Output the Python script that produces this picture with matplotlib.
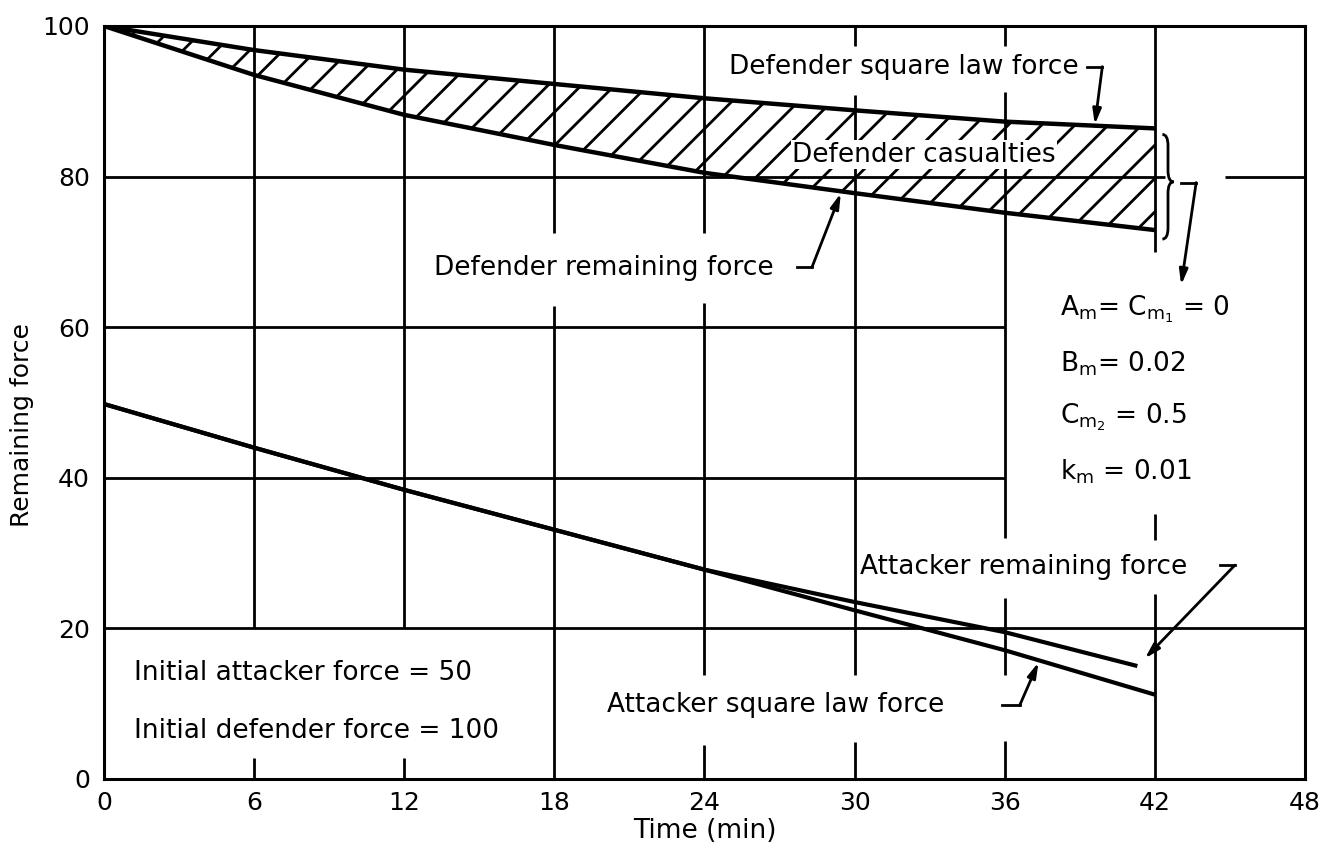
import matplotlib
matplotlib.use("Agg")
import matplotlib.pyplot as plt
from matplotlib.path import Path
from matplotlib.patches import PathPatch

plt.rcParams["font.family"] = ["DejaVu Sans"]
plt.rcParams["mathtext.default"] = "regular"
plt.rcParams["hatch.linewidth"] = 2.0

# values
time_def = [0, 6, 12, 18, 24, 30, 36, 42]
def_square_law = [100, 96.8, 94.2, 92.3, 90.4, 88.8, 87.3, 86.4]
def_remaining = [100, 93.5, 88.2, 84.2, 80.5, 77.8, 75.2, 72.9]

time_att_sq = [0, 6, 12, 18, 24, 30, 36, 42]
att_square_law = [49.8, 44.0, 38.4, 33.1, 27.8, 22.4, 17.1, 11.2]
time_att_rem = [0, 6, 12, 18, 24, 30, 36, 41.3]
att_remaining = [49.8, 44.0, 38.4, 33.1, 27.8, 23.5, 19.5, 15.0]

x_ticks = [0, 6, 12, 18, 24, 30, 36, 42, 48]
y_ticks = [0, 20, 40, 60, 80, 100]

params = ["A$_m$= C$_{m_1}$ = 0", "B$_m$= 0.02", "C$_{m_2}$ = 0.5", "k$_m$ = 0.01"]

# broken grid lines of the original drawing
v_grid = {
    6: [(20, 100), (0, 2.8)],
    12: [(20, 100), (0, 2.8)],
    18: [(72.5, 100), (0, 62.8)],
    24: [(72.5, 100), (13.8, 63.2), (0, 4.5)],
    30: [(97.3, 100), (13.8, 90.8), (0, 4.9)],
    36: [(97.3, 100), (32, 91.3), (13.8, 24.1), (0, 5)],
    42: [(70, 100), (31.7, 35.2), (0, 24.6)],
}
h_grid = {
    80: [(0, 42.4), (44.8, 48)],
    60: [(0, 36)],
    40: [(0, 36)],
    20: [(0, 48)],
}

fig = plt.figure(figsize=(13.36, 8.55), dpi=100)
ax = fig.add_axes([0.0778, 0.0889, 0.899, 0.8807])
ax.set_xlim(0, 48)
ax.set_ylim(0, 100)
ax.set_xticks(x_ticks)
ax.set_yticks(y_ticks)
ax.tick_params(axis="both", length=0, labelsize=18)
ax.tick_params(axis="x", pad=9)
ax.tick_params(axis="y", pad=10)
for s in ax.spines.values():
    s.set_linewidth(2.2)

for x, segs in v_grid.items():
    for y0, y1 in segs:
        ax.vlines(x, y0, y1, color="k", lw=2)
for y, segs in h_grid.items():
    for x0, x1 in segs:
        ax.hlines(y, x0, x1, color="k", lw=2)

# defender casualties band
ax.fill_between(time_def, def_remaining, def_square_law, facecolor="none",
                edgecolor="k", hatch="/", linewidth=0)
ax.plot(time_def, def_square_law, color="k", lw=3.2, solid_capstyle="butt")
ax.plot(time_def, def_remaining, color="k", lw=3.2, solid_capstyle="butt")
ax.plot(time_att_sq, att_square_law, color="k", lw=3, solid_capstyle="butt")
ax.plot(time_att_rem, att_remaining, color="k", lw=3, solid_capstyle="butt")

fs = 19
ax.text(25.0, 94.6, "Defender square law force", fontsize=fs, va="center")
ax.text(27.5, 82.9, "Defender casualties", fontsize=fs, va="center",
        bbox=dict(facecolor="white", edgecolor="none", pad=1))
ax.text(13.2, 67.8, "Defender remaining force", fontsize=fs, va="center")
ax.text(30.2, 28.1, "Attacker remaining force", fontsize=fs, va="center")
ax.text(20.1, 9.8, "Attacker square law force", fontsize=fs, va="center")
ax.text(1.2, 14.1, "Initial attacker force = 50", fontsize=fs, va="center")
ax.text(1.2, 6.4, "Initial defender force = 100", fontsize=fs, va="center")
for i, p in enumerate(params):
    ax.text(38.2, 62.4 - 7.2 * i, p, fontsize=fs, va="center")


def hook_arrow(hook, tip):
    hx = [h[0] for h in hook]
    hy = [h[1] for h in hook]
    ax.plot(hx, hy, color="k", lw=2)
    ax.annotate("", xy=tip, xytext=hook[-1],
                arrowprops=dict(arrowstyle="-|>,head_length=0.9,head_width=0.25",
                                color="k", lw=2, shrinkA=0, shrinkB=0))


hook_arrow([(39.3, 94.6), (39.9, 94.6)], (39.6, 86.9))
hook_arrow([(27.7, 68.0), (28.3, 68.0)], (29.45, 77.8))
hook_arrow([(44.6, 28.4), (45.2, 28.4)], (41.6, 16.0))
hook_arrow([(35.9, 9.8), (36.6, 9.8)], (37.35, 15.5))
hook_arrow([(43.05, 79.2), (43.65, 79.2)], (43.05, 65.6))

# curly brace next to the casualties band
bx, btop, bbot, bmid, bw = 42.3, 85.6, 71.7, 79.3, 0.45
verts = [(bx, btop), (bx + bw / 2, btop), (bx + bw / 2, btop - 1.5),
         (bx + bw / 2, bmid + 1.5),
         (bx + bw / 2, bmid), (bx + bw, bmid),
         (bx + bw / 2, bmid), (bx + bw / 2, bmid - 1.5),
         (bx + bw / 2, bbot + 1.5),
         (bx + bw / 2, bbot), (bx, bbot)]
codes = [Path.MOVETO, Path.CURVE3, Path.CURVE3, Path.LINETO,
         Path.CURVE3, Path.CURVE3, Path.CURVE3, Path.CURVE3,
         Path.LINETO, Path.CURVE3, Path.CURVE3]
ax.add_patch(PathPatch(Path(verts, codes), facecolor="none", edgecolor="k", lw=2))

ax.set_xlabel("Time (min)", fontsize=19, labelpad=2)
ax.set_ylabel("Remaining force", fontsize=18)
ax.yaxis.set_label_coords(-0.058, 0.47)

fig.savefig("out.png", dpi=100)
